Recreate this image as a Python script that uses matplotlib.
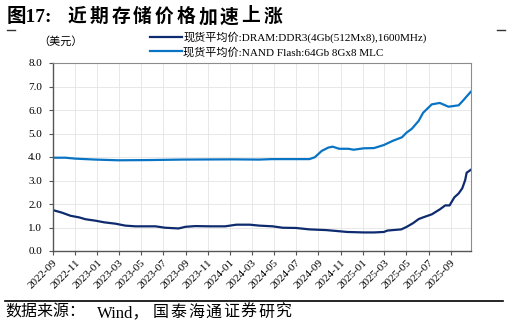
import matplotlib
matplotlib.use('Agg')
import matplotlib.pyplot as plt
import matplotlib.dates as mdates
from matplotlib.lines import Line2D
import pandas as pd

plt.rcParams['font.family'] = ['Liberation Serif', 'Noto Sans CJK SC']

# 现货平均价:DRAM:DDR3(4Gb(512Mx8),1600MHz)
dram_dates = ['2022-09-01', '2022-09-26', '2022-10-19', '2022-11-12', '2022-11-30',
              '2022-12-27', '2023-01-20', '2023-02-21', '2023-03-19', '2023-04-16',
              '2023-05-22', '2023-06-10', '2023-07-07', '2023-08-13', '2023-09-01',
              '2023-09-28', '2023-11-07', '2023-12-19', '2024-01-19', '2024-02-25',
              '2024-03-22', '2024-04-28', '2024-05-25', '2024-07-01', '2024-08-07',
              '2024-09-22', '2024-10-22', '2024-11-19', '2025-01-04', '2025-02-01',
              '2025-02-28', '2025-03-10', '2025-04-17', '2025-05-01', '2025-05-19',
              '2025-06-04', '2025-06-16', '2025-07-10', '2025-08-01', '2025-08-16',
              '2025-08-28', '2025-09-10', '2025-09-22', '2025-10-02', '2025-10-10',
              '2025-10-14', '2025-10-25']
dram_vals = [1.74, 1.63, 1.50, 1.43, 1.35,
             1.29, 1.22, 1.16, 1.08, 1.05,
             1.05, 1.05, 0.99, 0.96, 1.03,
             1.06, 1.05, 1.05, 1.12, 1.12,
             1.08, 1.05, 0.99, 0.98, 0.92,
             0.89, 0.85, 0.81, 0.79, 0.79,
             0.81, 0.87, 0.92, 1.02, 1.18,
             1.36, 1.43, 1.56, 1.77, 1.94,
             1.94, 2.28, 2.45, 2.67, 3.02,
             3.33, 3.45]

# 现货平均价:NAND Flash:64Gb 8Gx8 MLC
nand_dates = ['2022-09-01', '2022-10-05', '2022-11-02', '2022-12-27', '2023-03-01',
              '2023-05-22', '2023-08-22', '2024-01-07', '2024-03-22', '2024-04-25',
              '2024-08-07', '2024-08-22', '2024-09-10', '2024-09-28', '2024-10-10',
              '2024-10-28', '2024-11-22', '2024-12-07', '2025-01-04', '2025-02-01',
              '2025-02-28', '2025-03-25', '2025-04-19', '2025-05-01', '2025-05-16',
              '2025-06-04', '2025-06-16', '2025-07-10', '2025-08-01', '2025-08-25',
              '2025-09-22', '2025-10-04', '2025-10-25']
nand_vals = [3.97, 3.97, 3.93, 3.89, 3.86,
             3.87, 3.89, 3.90, 3.89, 3.91,
             3.91, 3.99, 4.26, 4.40, 4.44,
             4.35, 4.35, 4.31, 4.37, 4.38,
             4.51, 4.69, 4.84, 5.03, 5.20,
             5.54, 5.88, 6.24, 6.30, 6.14,
             6.20, 6.40, 6.77]

label_dram = '现货平均价:DRAM:DDR3(4Gb(512Mx8),1600MHz)'
label_nand = '现货平均价:NAND Flash:64Gb 8Gx8 MLC'
title_num = '图17:'
title_text = '近期存储价格加速上涨'
unit = '（美元）'
source_head = '数据来源：'
source_wind = 'Wind，'
source_org = '国泰海通证券研究'

W, H = 509, 325
fig = plt.figure(figsize=(W / 100, H / 100), dpi=100)
ax = fig.add_axes([53 / W, 1 - 251 / H, (471 - 53) / W, (251 - 63) / H])

ax.plot(pd.to_datetime(dram_dates), dram_vals, color='#0D2B6E', lw=1.6, label=label_dram)
ax.plot(pd.to_datetime(nand_dates), nand_vals, color='#0A74C4', lw=1.6, label=label_nand)

ax.set_ylim(0, 8)
ax.set_yticks([i * 1.0 for i in range(9)])
ax.yaxis.set_major_formatter(matplotlib.ticker.FormatStrFormatter('%.1f'))
ax.set_xlim(pd.Timestamp('2022-09-01'), pd.Timestamp('2025-10-26'))
ax.xaxis.set_major_locator(mdates.MonthLocator(bymonth=[1, 3, 5, 7, 9, 11]))
ax.xaxis.set_major_formatter(mdates.DateFormatter('%Y-%m'))

ax.grid(True, color='#E4E4E4', lw=0.6)
ax.set_axisbelow(True)
for s in ['top', 'right']:
    ax.spines[s].set_color('#8C8C8C')
    ax.spines[s].set_linewidth(0.8)
for s in ['left', 'bottom']:
    ax.spines[s].set_color('#555555')
    ax.spines[s].set_linewidth(1.0)
ax.tick_params(axis='both', direction='out', length=3, width=0.8, color='#555555',
               labelsize=8)
ax.tick_params(axis='y', pad=5)
ax.tick_params(axis='x', pad=2)
plt.setp(ax.get_xticklabels(), rotation=45, ha='right', rotation_mode='anchor')

fig.legend(loc='upper left', bbox_to_anchor=(150 / W, 1 - 32 / H), frameon=False,
           fontsize=8, handlelength=2.9, handletextpad=0.1, labelspacing=0.3,
           borderaxespad=0, borderpad=0)

# title, Chinese characters spaced out like the original
fig.text(7 / W, 1 - 17 / H, title_num, fontsize=14, fontweight='bold', va='center', ha='left')
for i, ch in enumerate(title_text):
    fig.text((68 + 21.7 * i) / W, 1 - 17 / H, ch, fontsize=13.5, fontweight='bold',
             va='center', ha='left')

fig.text(38 / W, 1 - 41 / H, unit, fontsize=8, va='center', ha='left')
src_y = 1 - 317 / H
fig.text(5 / W, src_y, source_head, fontsize=11.5, va='baseline', ha='left')
fig.text(97 / W, src_y, source_wind, fontsize=12, va='baseline', ha='left')
for i, ch in enumerate(source_org):
    fig.text((153 + 17.5 * i) / W, src_y, ch, fontsize=11.5, va='baseline', ha='left')

fig.add_artist(Line2D([7 / W, 15 / W], [1 - 29.5 / H] * 2, color='#333333', lw=1))
fig.add_artist(Line2D([497 / W, 505 / W], [1 - 29.5 / H] * 2, color='#333333', lw=1))
fig.add_artist(Line2D([5 / W, 503 / W], [1 - 300.5 / H] * 2, color='black', lw=1.2))

fig.savefig('out.png', dpi=100)
